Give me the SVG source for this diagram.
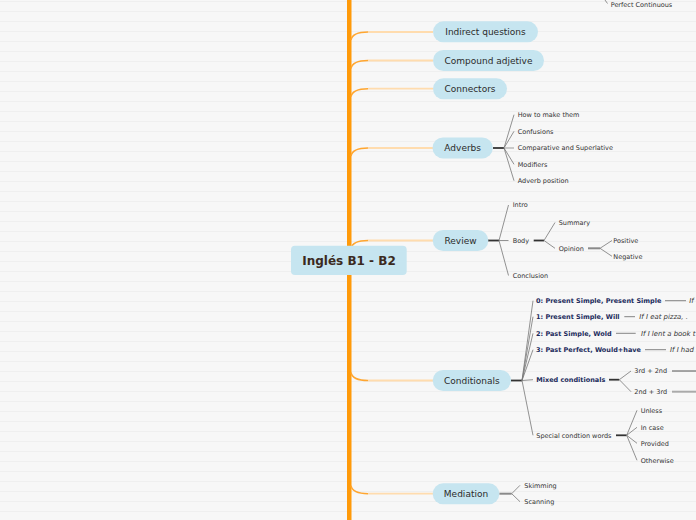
<svg xmlns="http://www.w3.org/2000/svg" width="696" height="520" viewBox="0 0 696 520">
<defs>
<pattern id="lines" width="696" height="10" patternUnits="userSpaceOnUse">
<rect width="696" height="10" fill="#f7f7f7"/>
<rect y="1" width="696" height="1" fill="#efefef"/>
</pattern>
<style>
.node rect{fill:#c6e5f0}
.nt{font-family:"DejaVu Sans",Verdana,sans-serif;font-size:9px;fill:#2b2b2b;text-anchor:middle}
.ct{font-family:"DejaVu Sans",Verdana,sans-serif;font-size:6.5px;fill:#333}
.bt{font-family:"DejaVu Sans",Verdana,sans-serif;font-size:6.5px;font-weight:bold;fill:#1b2b5c}
.it{font-family:"DejaVu Sans",Verdana,sans-serif;font-size:6.9px;font-style:italic;fill:#333}
.bd{fill:none;stroke:#ffa630;stroke-width:1.5}
.bl{fill:none;stroke:#ffdcae;stroke-width:1.8}
.hub{stroke:#333;stroke-width:1.8}
.hubg{stroke:#8a8a8a;stroke-width:2}
.fan{stroke:#777;stroke-width:0.8;fill:none}
.fanl{stroke:#aaa;stroke-width:1.2}
.lk{stroke:#777;stroke-width:0.9}
</style>
</defs>
<rect width="696" height="520" fill="url(#lines)"/>

<g id="connectors">
<rect x="347" y="0" width="4.5" height="520" fill="#ff9a0a"/>
<path class="bd" d="M351,40 Q352.5,32 368,32"/><path class="bl" d="M368,32 L433,32"/>
<path class="bd" d="M351,68.5 Q352.5,60.5 368,60.5"/><path class="bl" d="M368,60.5 L433,60.5"/>
<path class="bd" d="M351,96.7 Q352.5,88.7 368,88.7"/><path class="bl" d="M368,88.7 L433,88.7"/>
<path class="bd" d="M351,156 Q352.5,148 368,148"/><path class="bl" d="M368,148 L433,148"/>
<path class="bd" d="M351,248.5 Q352.5,240.5 368,240.5"/><path class="bl" d="M368,240.5 L433,240.5"/>
<path class="bd" d="M351,372.5 Q352.5,380.5 368,380.5"/><path class="bl" d="M368,380.5 L433,380.5"/>
<path class="bd" d="M351,485.7 Q352.5,493.7 368,493.7"/><path class="bl" d="M368,493.7 L433,493.7"/>
<line class="fan" x1="605" y1="0" x2="607.5" y2="3.5"/>
<line class="hub" x1="493" y1="148" x2="504" y2="148"/>
<line class="fan" x1="504" y1="148" x2="514" y2="114.7"/>
<line class="fan" x1="504" y1="148" x2="514" y2="131.3"/>
<line class="fanl" x1="504" y1="148" x2="514" y2="148"/>
<line class="fan" x1="504" y1="148" x2="514" y2="164.3"/>
<line class="fan" x1="504" y1="148" x2="514" y2="180.7"/>
<line class="hub" x1="488" y1="240.5" x2="499" y2="240.5"/>
<line class="fan" x1="499" y1="240.5" x2="508.5" y2="205"/>
<line class="fan" x1="499" y1="240.5" x2="508.5" y2="240.5"/>
<line class="fan" x1="499" y1="240.5" x2="508.5" y2="275.5"/>
<line class="hub" x1="533.7" y1="240.5" x2="544" y2="240.5"/>
<line class="fan" x1="544" y1="240.5" x2="555" y2="222.5"/>
<line class="fan" x1="544" y1="240.5" x2="555" y2="248.3"/>
<line class="hubg" x1="588" y1="248.3" x2="600" y2="248.3"/>
<line class="fan" x1="600" y1="248.3" x2="612" y2="240.5"/>
<line class="fan" x1="600" y1="248.3" x2="612" y2="256.3"/>
<line class="hub" x1="511" y1="380.5" x2="522" y2="380.5"/>
<line class="fan" x1="522" y1="380.5" x2="533" y2="300.7"/>
<line class="fan" x1="522" y1="380.5" x2="533" y2="316.7"/>
<line class="fan" x1="522" y1="380.5" x2="533" y2="333.3"/>
<line class="fan" x1="522" y1="380.5" x2="533" y2="349.7"/>
<line class="fan" x1="522" y1="380.5" x2="533" y2="379.7"/>
<line class="fan" x1="522" y1="380.5" x2="533" y2="435.3"/>
<line class="lk" x1="665" y1="300.7" x2="686" y2="300.7"/>
<line class="lk" x1="624.3" y1="316.7" x2="635" y2="316.7"/>
<line class="lk" x1="616" y1="333.3" x2="635.7" y2="333.3"/>
<line class="lk" x1="645" y1="349.7" x2="666" y2="349.7"/>
<line class="hub" x1="609" y1="379.7" x2="619.3" y2="379.7"/>
<line class="fan" x1="619.3" y1="379.7" x2="631" y2="371"/>
<line class="fan" x1="619.3" y1="379.7" x2="631" y2="391.7"/>
<line x1="672" y1="371" x2="696" y2="371" stroke="#555" stroke-width="1"/>
<line x1="672" y1="391.7" x2="696" y2="391.7" stroke="#aaa" stroke-width="2"/>
<line class="hub" x1="616" y1="435.3" x2="626.7" y2="435.3"/>
<line class="fan" x1="626.7" y1="435.3" x2="637" y2="410.3"/>
<line class="fan" x1="626.7" y1="435.3" x2="637" y2="427.3"/>
<line class="fan" x1="626.7" y1="435.3" x2="637" y2="443.3"/>
<line class="fan" x1="626.7" y1="435.3" x2="637" y2="460.3"/>
<line class="hubg" x1="499.3" y1="493.7" x2="511.7" y2="493.7"/>
<line class="fan" x1="511.7" y1="493.7" x2="520" y2="485.3"/>
<line class="fan" x1="511.7" y1="493.7" x2="520" y2="501.7"/>
</g>

<g id="root" class="node">
<rect x="291" y="245.7" width="115.7" height="29.3" rx="4"/>
<text x="349" y="264.8" text-anchor="middle" style="font-family:'DejaVu Sans',Verdana,sans-serif;font-size:12px;font-weight:bold;fill:#3b2a1e">Inglés B1 - B2</text>
</g>

<g id="perfect-continuous"><text class="ct" x="610.7" y="7.3">Perfect Continuous</text></g>

<g id="indirect-questions" class="node"><rect x="433" y="21.3" width="105" height="21" rx="10.5"/><text class="nt" x="485.5" y="35">Indirect questions</text></g>
<g id="compound-adjetive" class="node"><rect x="433" y="50" width="111" height="21" rx="10.5"/><text class="nt" x="488.5" y="63.7">Compound adjetive</text></g>
<g id="connectors-node" class="node"><rect x="433" y="78.3" width="74" height="21" rx="10.5"/><text class="nt" x="470" y="91.9">Connectors</text></g>

<g id="adverbs" class="node"><rect x="432.5" y="137.4" width="60.3" height="21" rx="10.5"/><text class="nt" x="462.7" y="151.2">Adverbs</text></g>
<g id="adverbs-children">
<text class="ct" x="517.7" y="117">How to make them</text>
<text class="ct" x="517.7" y="133.6">Confusions</text>
<text class="ct" x="517.7" y="150.1">Comparative and Superlative</text>
<text class="ct" x="517.7" y="166.6">Modifiers</text>
<text class="ct" x="517.7" y="183">Adverb position</text>
</g>

<g id="review" class="node"><rect x="432.7" y="230" width="55.6" height="21" rx="10.5"/><text class="nt" x="460.5" y="243.7">Review</text></g>
<g id="review-children">
<text class="ct" x="512.7" y="206.8">Intro</text>
<text class="ct" x="512.7" y="242.8">Body</text>
<text class="ct" x="512.7" y="277.8">Conclusion</text>
<text class="ct" x="558.7" y="224.8">Summary</text>
<text class="ct" x="558.7" y="250.6">Opinion</text>
<text class="ct" x="613.3" y="242.8">Positive</text>
<text class="ct" x="613.3" y="258.6">Negative</text>
</g>

<g id="conditionals" class="node"><rect x="432.7" y="370" width="78.3" height="21" rx="10.5"/><text class="nt" x="471.8" y="383.7">Conditionals</text></g>
<g id="conditionals-children">
<text class="bt" x="536" y="303">0: Present Simple, Present Simple</text>
<text class="bt" x="536" y="319">1: Present Simple, Will</text>
<text class="bt" x="536" y="335.6">2: Past Simple, Wold</text>
<text class="bt" x="536" y="352">3: Past Perfect, Would+have</text>
<text class="bt" x="536.3" y="382">Mixed conditionals</text>
<text class="ct" x="536.3" y="437.6">Special condtion words</text>
<text class="it" x="689.3" y="303">If</text>
<text class="it" x="639.3" y="319">If I eat pizza, .</text>
<text class="it" x="641" y="335.6">If I lent a book t</text>
<text class="it" x="670" y="352">If I had</text>
<text class="ct" x="634.3" y="373.3">3rd + 2nd</text>
<text class="ct" x="634.3" y="394">2nd + 3rd</text>
<text class="ct" x="640.7" y="412.6">Unless</text>
<text class="ct" x="640.7" y="429.6">In case</text>
<text class="ct" x="640.7" y="445.6">Provided</text>
<text class="ct" x="640.7" y="462.6">Otherwise</text>
</g>

<g id="mediation" class="node"><rect x="432.7" y="483.3" width="66.6" height="21" rx="10.5"/><text class="nt" x="466" y="497">Mediation</text></g>
<g id="mediation-children">
<text class="ct" x="524.3" y="487.6">Skimming</text>
<text class="ct" x="524.3" y="504">Scanning</text>
</g>
</svg>
